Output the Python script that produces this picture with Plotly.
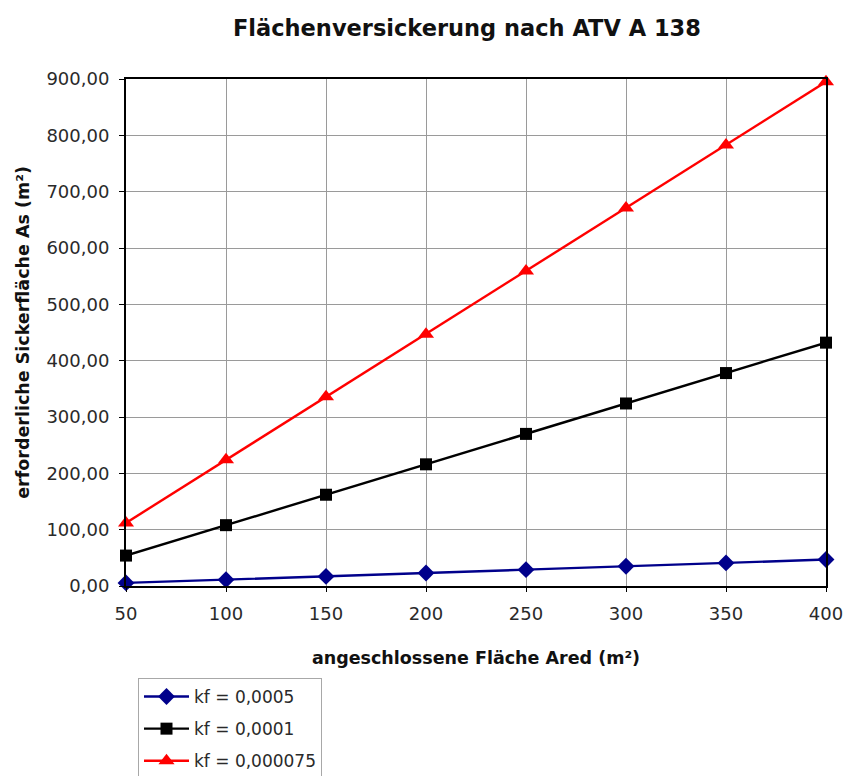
import plotly.graph_objects as go

# connected area Ared (m²)
ared = [50, 100, 150, 200, 250, 300, 350, 400]

# required infiltration area As (m²) per permeability kf
as_kf_0005 = [5.5, 11, 17, 23, 29, 35, 41, 47]
as_kf_0001 = [54, 108, 162, 216, 270, 324, 378, 432]
as_kf_000075 = [112, 224, 336, 447, 559, 671, 783, 895]

series = [
    ("kf = 0,0005", as_kf_0005, "#00008B", "diamond", 13),
    ("kf = 0,0001", as_kf_0001, "#000000", "square", 12),
    ("kf = 0,000075", as_kf_000075, "#FF0000", "triangle-up", 14),
]

fig = go.Figure()
for i, (name, vals, color, symbol, size) in enumerate(series):
    fig.add_trace(go.Scatter(
        x=ared, y=vals, name=name, mode="lines+markers",
        legendgroup=f"g{i}",
        line=dict(color=color, width=2.4),
        marker=dict(symbol=symbol, size=size, color=color),
        cliponaxis=False,
    ))

font = "DejaVu Sans, Liberation Sans, Arial, sans-serif"
W, H = 849, 776
ML, MR, MT, MB = 126, 23, 79, 190
plot_w, plot_h = W - ML - MR, H - MT - MB

fig.update_layout(
    width=W, height=H,
    margin=dict(l=ML, r=MR, t=MT, b=MB, autoexpand=False),
    paper_bgcolor="white", plot_bgcolor="white",
    separators=",.",
    font=dict(family=font, size=18, color="#2a2a2a"),
    title=dict(text="<b>Flächenversickerung nach ATV A 138</b>",
               x=0.55, xanchor="center", y=0.964, yanchor="middle",
               font=dict(size=22.5, color="#111111")),
    xaxis=dict(
        range=[50, 400], dtick=50, tick0=50,
        showgrid=True, gridcolor="#9A9A9A", gridwidth=1,
        showline=True, linecolor="black", linewidth=2, mirror=True,
        ticks="outside", ticklen=4, tickcolor="black",
        ticklabelstandoff=6,
        zeroline=False,
        title=dict(text="<b>angeschlossene Fläche Ared (m²)</b>",
                   font=dict(size=17.5, color="#111111"), standoff=29),
    ),
    yaxis=dict(
        range=[0, 900], dtick=100, tickformat=".2f",
        showgrid=True, gridcolor="#9A9A9A", gridwidth=1,
        showline=True, linecolor="black", linewidth=2, mirror=True,
        ticks="outside", ticklen=5, tickcolor="black",
        ticklabelstandoff=6,
        zeroline=False,
        title=dict(text="<b>erforderliche Sickerfläche As (m²)</b>",
                   font=dict(size=17.5, color="#111111"), standoff=12),
    ),
    legend=dict(
        x=(138 - ML) / plot_w, xanchor="left",
        y=-(678 - (MT + plot_h)) / plot_h, yanchor="top",
        bordercolor="#A8A8A8", borderwidth=1, bgcolor="white",
        font=dict(size=17, color="#2a2a2a"),
        traceorder="grouped", tracegroupgap=7,
        itemwidth=45, entrywidth=195, entrywidthmode="pixels",
    ),
)

fig.write_html("out.html")
